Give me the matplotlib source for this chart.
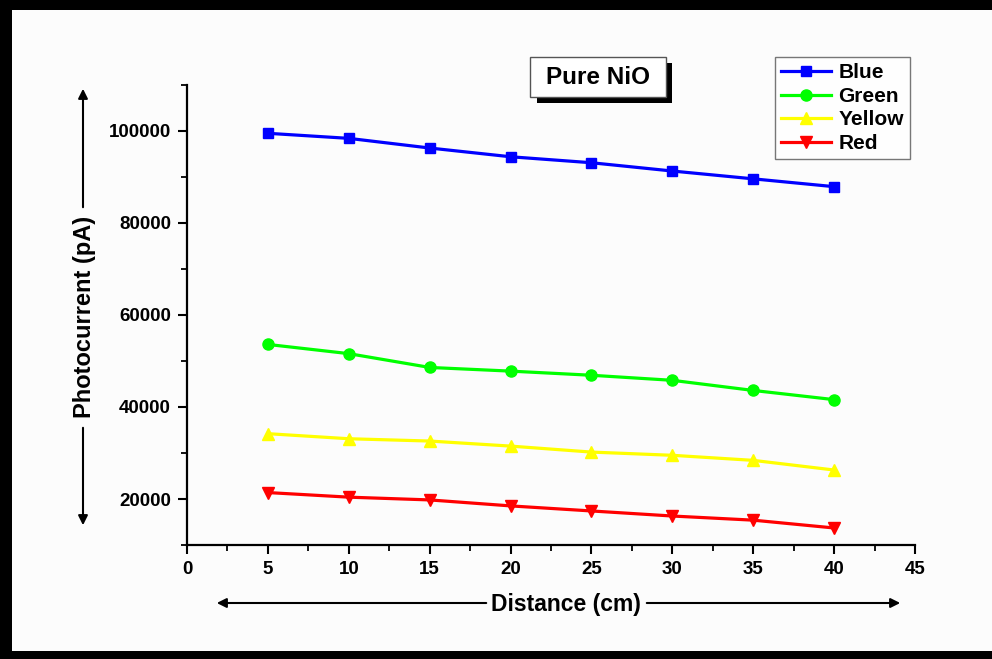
import numpy as np
import matplotlib.pyplot as plt
from matplotlib.patches import Rectangle, FancyArrowPatch
from matplotlib.ticker import MultipleLocator

plt.rcParams['font.family'] = ['Liberation Sans', 'DejaVu Sans']
plt.rcParams['font.weight'] = 'bold'

# Данные
distance = [5, 10, 15, 20, 25, 30, 35, 40]
blue = [99500, 98400, 96300, 94400, 93100, 91300, 89600, 87900]
green = [53600, 51600, 48600, 47800, 46900, 45800, 43600, 41600]
yellow = [34200, 33100, 32600, 31500, 30200, 29500, 28400, 26300]
red = [21400, 20400, 19800, 18500, 17400, 16300, 15400, 13700]

W, H = 992, 659
fig = plt.figure(figsize=(W / 100, H / 100), dpi=100)
fig.patch.set_facecolor('#fcfcfc')

def fx(px):
    return px / W

def fy(py):
    return 1 - py / H

# Чёрная рамка (верх, лево, низ)
for x0, y0, w, h in [(0, fy(10), 1, 10 / H), (0, 0, fx(12), 1), (0, 0, 1, 8 / H)]:
    fig.patches.append(Rectangle((x0, y0), w, h, transform=fig.transFigure,
                                 facecolor='black', edgecolor='none', zorder=0))

ax = fig.add_axes([fx(187), fy(545), fx(915) - fx(187), fy(85) - fy(545)])
ax.set_facecolor('none')

ax.plot(distance, blue, '-s', color='#0000ff', lw=2.3, ms=7.5, label='Blue')
ax.plot(distance, green, '-o', color='#00ff00', lw=2.3, ms=8, label='Green')
ax.plot(distance, yellow, '-^', color='#ffff00', lw=2.3, ms=8.5, label='Yellow')
ax.plot(distance, red, '-v', color='#ff0000', lw=2.3, ms=8.5, label='Red')

ax.set_xlim(0, 45)
ax.set_ylim(10000, 110000)
ax.xaxis.set_major_locator(MultipleLocator(5))
ax.xaxis.set_minor_locator(MultipleLocator(2.5))
ax.yaxis.set_minor_locator(MultipleLocator(10000))
ax.set_yticks([20000, 40000, 60000, 80000, 100000])

for s in ['top', 'right']:
    ax.spines[s].set_visible(False)
for s in ['left', 'bottom']:
    ax.spines[s].set_linewidth(1.6)

ax.tick_params(which='major', direction='out', length=6.5, width=1.5,
               labelsize=13.5, pad=5)
ax.tick_params(which='minor', direction='out', length=4, width=1.3)
for lab in ax.get_xticklabels() + ax.get_yticklabels():
    lab.set_fontweight('bold')

# Подписи осей со стрелками
arrow = dict(arrowstyle='-|>', color='black', lw=1.5, mutation_scale=14,
             transform=fig.transFigure)
fig.text(fx(566), fy(604), 'Distance (cm)', ha='center', va='center',
         fontsize=16.5, fontweight='bold')
fig.patches.append(FancyArrowPatch((fx(489), fy(603)), (fx(214), fy(603)), **arrow))
fig.patches.append(FancyArrowPatch((fx(644), fy(603)), (fx(903), fy(603)), **arrow))

fig.text(fx(84), fy(317), 'Photocurrent (pA)', ha='center', va='center',
         rotation=90, fontsize=17, fontweight='bold')
fig.patches.append(FancyArrowPatch((fx(83), fy(210)), (fx(83), fy(86)), **arrow))
fig.patches.append(FancyArrowPatch((fx(83), fy(425)), (fx(83), fy(528)), **arrow))

# Надпись Pure NiO с тенью
fig.patches.append(Rectangle((fx(537), fy(103)), fx(672) - fx(537), 40 / H,
                             transform=fig.transFigure, facecolor='black',
                             edgecolor='none', zorder=1))
fig.patches.append(Rectangle((fx(530), fy(97)), fx(666) - fx(530), 40 / H,
                             transform=fig.transFigure, facecolor='white',
                             edgecolor='#555555', lw=1, zorder=2))
fig.text(fx(598), fy(78), 'Pure NiO', ha='center', va='center',
         fontsize=17.5, fontweight='bold', zorder=3)

leg = ax.legend(loc='upper left', bbox_to_anchor=(fx(775), fy(57)),
                bbox_transform=fig.transFigure, frameon=True, fancybox=False,
                edgecolor='#555555', fontsize=15, handlelength=2.4,
                borderpad=0.3, labelspacing=0.22, handletextpad=0.35,
                borderaxespad=0)
leg.get_frame().set_linewidth(1)
for t in leg.get_texts():
    t.set_fontweight('bold')

fig.savefig('out.png', dpi=100, facecolor=fig.get_facecolor())
